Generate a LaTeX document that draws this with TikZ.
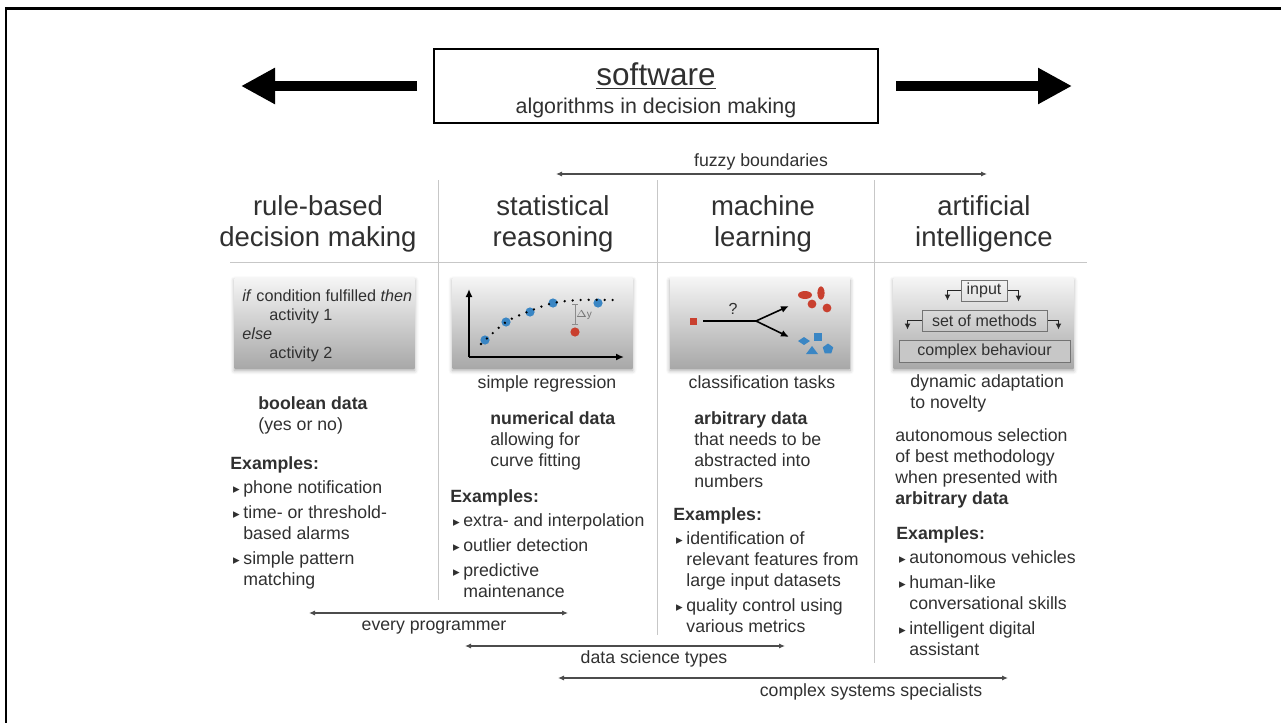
\documentclass[tikz,border=0pt]{standalone}
\usepackage{graphicx}
\usepackage{fontspec}
\setmainfont{Liberation Sans}
\newfontfamily\symfont{DejaVu Sans}
\usetikzlibrary{arrows.meta,shadows.blur,shapes.geometric}

\definecolor{dotblue}{HTML}{3A86C4}
\definecolor{dotred}{HTML}{C9402F}
\definecolor{inkgray}{HTML}{303030}

\newcommand{\fsHead}{\fontsize{13.75}{15.5}\selectfont}
\newcommand{\fsBody}{\fontsize{8.85}{10.4}\selectfont}
\newcommand{\fsImg}{\fontsize{8}{9.5}\selectfont}
\newcommand{\bitem}{\makebox[6.5pt][l]{\hspace{1.3pt}{\symfont\scalebox{0.75}{▸}}}}
\newcommand{\bcont}{\hspace*{6.5pt}}

% multi-line nodes are placed by the baseline of their last line
\tikzset{
  heading/.style={inner sep=0pt, anchor=base, align=center, font=\fsHead, text=inkgray},
  bodytext/.style={inner sep=0pt, anchor=base west, align=left, font=\fsBody, text=inkgray},
  capline/.style={inner sep=0pt, anchor=base, font=\fsBody, text=inkgray},
  span/.style={{Latex[length=3pt,width=2.6pt]}-{Latex[length=3pt,width=2.6pt]}, line width=0.6pt, draw=black!70},
  divider/.style={draw=black!22, line width=0.5pt},
  bigarrow/.style={-{Triangle[length=17pt,width=17pt]}, line width=5pt},
  picbox/.style={minimum width=90pt, minimum height=45pt, inner sep=0pt,
    top color=black!4, bottom color=black!34,
    blur shadow={shadow xshift=0pt, shadow yshift=-1.2pt, shadow blur radius=2pt, shadow opacity=35}},
  methodbox/.style={draw=black!55, line width=0.5pt, inner sep=0pt, font=\fsImg, text=inkgray},
  elbow/.style={-{Latex[length=3pt,width=3pt]}, line width=0.6pt, draw=black!85},
  plotaxis/.style={-{Latex[length=4pt,width=3.5pt]}, line width=1pt},
  fitdots/.style={line width=1.3pt, line cap=round, dash pattern=on 0pt off 4pt},
  forkarrow/.style={-{Latex[length=4pt,width=3.5pt]}, line width=0.8pt},
}

\begin{document}
\begin{tikzpicture}[x=0.5pt, y=-0.5pt]
\useasboundingbox (0,0) rectangle (1281,723);
% frame
\draw[line width=1.3pt] (6,723) -- (6,8.7) -- (1281,8.7);

% title box and big arrows
\node[draw, line width=0.9pt, minimum width=222pt, minimum height=37pt] (soft) at (656,86) {};
\node[inner sep=0pt, anchor=base, font=\fontsize{15.75}{18}\selectfont, text=inkgray] (softtitle) at (656,85) {\underline{software}};
\node[inner sep=0pt, anchor=base, font=\fontsize{10.7}{13}\selectfont, text=inkgray] (softsub) at (656,113) {algorithms in decision making};
\coordinate (leftTail) at (417,86);
\coordinate (leftTip) at (241,86);
\coordinate (rightTail) at (896,86);
\coordinate (rightTip) at (1072,86);
\draw[bigarrow] (leftTail) -- (leftTip);
\draw[bigarrow] (rightTail) -- (rightTip);

% fuzzy boundaries
\coordinate (fuzzyL) at (556,174);
\coordinate (fuzzyR) at (987,174);
\draw[span] (fuzzyL) -- (fuzzyR);
\node[capline] (fuzzy) at (761,166) {fuzzy boundaries};

% column grid
\draw[divider] (438,180) -- (438,600);
\draw[divider] (657,180) -- (657,635);
\draw[divider] (874,180) -- (874,663);
\draw[divider] (230,262) -- (1087,262);

% headings
\node[heading] (hrule) at (318,246) {rule-based\\decision making};
\node[heading] (hstat) at (553,246) {statistical\\reasoning};
\node[heading] (hml) at (763,246) {machine\\learning};
\node[heading] (hai) at (984,246) {artificial\\intelligence};

% picture boxes
\node[picbox] (boxrule) at (324.5,323) {};
\node[picbox] (boxstat) at (542.5,323) {};
\node[picbox] (boxml) at (760,323) {};
\node[picbox] (boxai) at (983.5,323) {};

% rule-based picture
\node[bodytext, font=\fontsize{8.1}{9.5}\selectfont] (ifthen) at (242,358)
  {\textit{if} condition fulfilled \textit{then}\\
   \hspace*{13.5pt}activity 1\\
   \textit{else}\\
   \hspace*{13.5pt}activity 2};

% regression picture
\coordinate (org) at (469,357);
\draw[plotaxis] (org) -- (469,289);
\draw[plotaxis] (org) -- (624,357);
\foreach \px/\py in {485/340, 506/322, 530/312, 553/303, 598/303}
  \fill[dotblue] (\px,\py) circle (2.3pt);
\fill[dotred] (575,332) circle (2.3pt);
\draw[fitdots] plot[smooth] coordinates {(481,344) (506,322) (530,311) (553,303) (580,300) (614,300)};
\draw[black!45, line width=0.4pt, {Bar[width=3pt]}-{Bar[width=3pt]}] (575,304) -- (575,325);
\node[inner sep=0pt, font=\fontsize{5}{6}\selectfont, text=black!55] (dy) at (584,315) {$\Delta$y};

% classification picture
\fill[dotred] (689.5,317.5) rectangle ++(7,7);
\coordinate (mlsrc) at (703,321);
\coordinate (mlfork) at (756,321);
\coordinate (mlup) at (789,306);
\coordinate (mldn) at (789,337);
\draw[line width=0.8pt] (mlsrc) -- (mlfork);
\draw[forkarrow] (mlfork) -- (mlup);
\draw[forkarrow] (mlfork) -- (mldn);
\node[inner sep=0pt, font=\fsImg, text=inkgray] (qmark) at (733,309) {?};
\fill[dotred] (805,295) ellipse (3.5pt and 2pt);
\fill[dotred] (821,293) ellipse (1.8pt and 3.3pt);
\fill[dotred] (812,304) circle (2.2pt);
\fill[dotred] (827,308) circle (2.2pt);
\fill[dotblue] (814,333) rectangle ++(8,8);
\fill[dotblue] (798,341) -- (804,337) -- (810,341) -- (804,345) -- cycle;
\fill[dotblue] (806,354) -- (812,346) -- (818,354) -- cycle;
\node[regular polygon, regular polygon sides=5, fill=dotblue, inner sep=0pt, minimum size=5.5pt] (pent) at (828,349) {};

% adaptive picture
\node[methodbox, minimum width=23pt, minimum height=10.5pt] (input) at (984,290.5) {input};
\node[methodbox, minimum width=62.5pt, minimum height=10.5pt] (methods) at (984.5,320.5) {set of methods};
\node[methodbox, fill=black!22, minimum width=85.5pt, minimum height=11pt] (behav) at (984.5,351) {complex behaviour};
\draw[elbow] (input.west) -| ++(-13,10);
\draw[elbow] (input.east) -| ++(11,11);
\draw[elbow] (methods.west) -| ++(-14,9);
\draw[elbow] (methods.east) -| ++(11,9);

% column 1
\node[bodytext] (booldata) at (258,430) {\textbf{boolean data}\\(yes or no)};
\node[bodytext] (ruleex) at (230,585) {\textbf{Examples:}\\[1.6pt]
  \bitem phone notification\\[2pt]
  \bitem time- or threshold-\\
  \bcont based alarms\\[2pt]
  \bitem simple pattern\\
  \bcont matching};

% column 2
\node[capline] (regcap) at (547,388) {simple regression};
\node[bodytext] (numdata) at (490,466) {\textbf{numerical data}\\allowing for\\curve fitting};
\node[bodytext] (statex) at (450,597) {\textbf{Examples:}\\[1.6pt]
  \bitem extra- and interpolation\\[2pt]
  \bitem outlier detection\\[2pt]
  \bitem predictive\\
  \bcont maintenance};

% column 3
\node[capline] (clscap) at (762,388) {classification tasks};
\node[bodytext] (arbdata) at (694,487) {\textbf{arbitrary data}\\that needs to be\\abstracted into\\numbers};
\node[bodytext] (mlex) at (673,632) {\textbf{Examples:}\\[1.6pt]
  \bitem identification of\\
  \bcont relevant features from\\
  \bcont large input datasets\\[2pt]
  \bitem quality control using\\
  \bcont various metrics};

% column 4
\node[bodytext] (adapt) at (910,408) {dynamic adaptation\\to novelty};
\node[bodytext] (autosel) at (895,504) {autonomous selection\\of best methodology\\when presented with\\\textbf{arbitrary data}};
\node[bodytext] (aiex) at (896,655) {\textbf{Examples:}\\[1.6pt]
  \bitem autonomous vehicles\\[2pt]
  \bitem human-like\\
  \bcont conversational skills\\[2pt]
  \bitem intelligent digital\\
  \bcont assistant};

% who works where
\coordinate (progL) at (309,613);
\coordinate (progR) at (568,613);
\draw[span] (progL) -- (progR);
\node[capline] (prog) at (434,630) {every programmer};
\coordinate (dsL) at (465,646);
\coordinate (dsR) at (785,646);
\draw[span] (dsL) -- (dsR);
\node[capline] (ds) at (654,663) {data science types};
\coordinate (cxL) at (558,678);
\coordinate (cxR) at (1008,678);
\draw[span] (cxL) -- (cxR);
\node[capline] (cx) at (871,696) {complex systems specialists};
\end{tikzpicture}
\end{document}
